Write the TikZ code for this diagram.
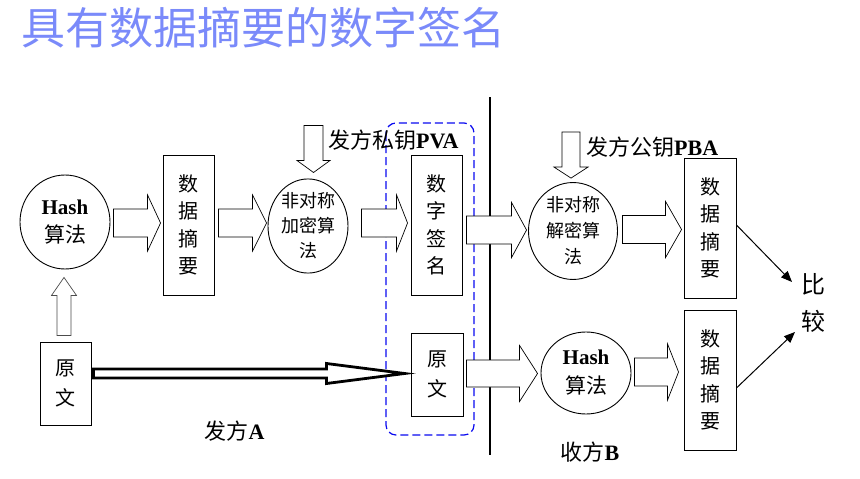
\documentclass[tikz,border=0pt]{standalone}
\usepackage{fontspec}
\setmainfont{Liberation Serif}
\newfontfamily\cjk{Noto Sans CJK SC}
\usetikzlibrary{calc,shapes.geometric,arrows.meta}
\definecolor{titleblue}{RGB}{122,138,250}
\definecolor{dashblue}{RGB}{10,10,240}
% #1 style, #2 start, #3 tip, #4 shaft half width, #5 head half width, #6 head length
\newcommand\blockarrow[6][]{%
  \coordinate (bah) at ($(#3)!#6!(#2)$);
  \draw[#1] ($(#2)!#4!90:(#3)$) -- ($(bah)!#4!90:(#3)$) -- ($(bah)!#5!90:(#3)$) -- (#3)
    -- ($(bah)!#5!-90:(#3)$) -- ($(bah)!#4!-90:(#3)$) -- ($(#2)!#4!-90:(#3)$) -- cycle;}
\tikzset{
  cjkbox/.style={draw, line width=0.9pt, rectangle, minimum width=51pt, minimum height=140pt,
    inner sep=0pt, align=center, font=\cjk\fontsize{20}{27.5}\selectfont},
  circ/.style={draw, line width=0.9pt, ellipse, inner sep=0pt, align=center},
  hollow/.style={draw, line width=0.7pt, fill=white},
  lbl/.style={inner sep=0pt, font=\fontsize{22}{22}\selectfont},
  linearr/.style={line width=1pt, -{Triangle[length=11pt,width=9pt]}}
}
\begin{document}
\begin{tikzpicture}[x=1pt,y=-1pt]
\useasboundingbox (0,0) rectangle (860,479);
\fill[white] (0,0) rectangle (860,479);

% title
\node[anchor=west, inner sep=0pt, text=titleblue, font=\cjk\fontsize{44}{44}\selectfont] (title) at (21,28) {具有数据摘要的数字签名};

% dashed group and divider
\draw[dashblue, line width=1.2pt, dash pattern=on 8pt off 4pt, rounded corners=10pt] (386,123) rectangle (474,435);
\coordinate (vtop) at (490,97);
\coordinate (vbot) at (490,455);
\draw[line width=1.1pt] (vtop) -- (vbot);

% nodes
\node[circ, minimum width=90, minimum height=94, font=\fontsize{21}{28}\selectfont] (h1) at (65,222) {\textbf{Hash}\\{\cjk 算法}};
\node[cjkbox] (d1) at (188.5,225) {数\\据\\摘\\要};
\node[circ, minimum width=80, minimum height=86, font=\cjk\fontsize{18}{25}\selectfont] (e1) at (308,226) {非对称\\加密算\\法};
\node[cjkbox] (s1) at (436.5,225) {数\\字\\签\\名};
\node[circ, minimum width=89, minimum height=88, font=\cjk\fontsize{18}{26}\selectfont] (dc) at (573,231) {非对称\\解密算\\法};
\node[cjkbox, minimum width=52] (d2) at (710,228) {数\\据\\摘\\要};
\node[cjkbox, minimum width=52] (d3) at (710,380) {数\\据\\摘\\要};
\node[circ, minimum width=90, minimum height=82, font=\fontsize{21}{29}\selectfont] (h2) at (586,373) {\textbf{Hash}\\{\cjk 算法}};
\node[cjkbox, minimum width=52, minimum height=83, font=\cjk\fontsize{20}{30}\selectfont] (o2) at (437,374.5) {原\\文};
\node[cjkbox, minimum width=51, minimum height=83, font=\cjk\fontsize{20}{30}\selectfont] (o1) at (65.5,383.5) {原\\文};

% labels
\node[lbl, anchor=west] (pva) at (328,140) {{\cjk 发方私钥}\textbf{PVA}};
\node[lbl, anchor=west] (pba) at (586,147) {{\cjk 发方公钥}\textbf{PBA}};
\node[lbl] (fa) at (234.5,431) {{\cjk 发方}\textbf{A}};
\node[lbl] (sb) at (590,452) {{\cjk 收方}\textbf{B}};
\node[inner sep=0pt, align=center, font=\cjk\fontsize{24}{37}\selectfont] (cmp) at (813,303) {比\\较};

% hollow block arrows
\coordinate (a1s) at ($(h1.east)+(3,1)$);
\coordinate (a1t) at ($(d1.west|-a1s)+(-2,0)$);
\blockarrow[hollow]{a1s}{a1t}{14pt}{28pt}{13pt}

\coordinate (a2s) at ($(d1.east)+(4,-2)$);
\coordinate (a2t) at ($(e1.west|-a2s)+(-1,0)$);
\blockarrow[hollow]{a2s}{a2t}{14pt}{28pt}{14pt}

\coordinate (a3s) at ($(e1.east)+(13,-3)$);
\coordinate (a3t) at ($(s1.west|-a3s)+(-3,0)$);
\blockarrow[hollow]{a3s}{a3t}{14pt}{28pt}{11pt}

\coordinate (a4s) at ($(s1.east)+(4,5)$);
\coordinate (a4t) at ($(dc.west|-a4s)+(-1.5,0)$);
\blockarrow[hollow]{a4s}{a4t}{14pt}{27.5pt}{15pt}

\coordinate (a5s) at ($(dc.east)+(4.5,-1.5)$);
\coordinate (a5t) at ($(d2.west|-a5s)+(-2,0)$);
\blockarrow[hollow]{a5s}{a5t}{14pt}{28pt}{16pt}

\coordinate (a6s) at ($(o2.east)+(3,-1)$);
\coordinate (a6t) at ($(h2.west|-a6s)+(-3,0)$);
\blockarrow[hollow]{a6s}{a6t}{13.5pt}{28pt}{18pt}

\coordinate (a7s) at ($(h2.east)+(3,-1)$);
\coordinate (a7t) at ($(d3.west|-a7s)+(-5,0)$);
\blockarrow[hollow]{a7s}{a7t}{14pt}{28pt}{11pt}

% key arrows (down)
\coordinate (k1t) at ($(e1.north)+(5.5,-6)$);
\coordinate (k1s) at ($(k1t)+(0,-47)$);
\blockarrow[hollow]{k1s}{k1t}{9.5pt}{16.5pt}{12pt}

\coordinate (k2t) at ($(dc.north)+(-2,-4)$);
\coordinate (k2s) at ($(k2t)+(0,-46)$);
\blockarrow[hollow]{k2s}{k2t}{9pt}{17pt}{11pt}

% up arrow from original text to hash
\coordinate (ups) at ($(o1.north)+(-1.5,-6)$);
\coordinate (upt) at ($(h1.south)+(-1,8)$);
\blockarrow[hollow, draw=black!70]{ups}{upt}{7pt}{12.5pt}{18pt}

% thick transmission arrow
\coordinate (ts) at ($(o1.east)+(2,-10)$);
\coordinate (tt) at ($(o2.west|-ts)+(-6,0)$);
\blockarrow[draw, fill=white, line width=2.8pt]{ts}{tt}{4.5pt}{10pt}{78pt}

% comparison arrows
\coordinate (c1) at (792,282);
\coordinate (c2) at (795,332);
\draw[linearr] ($(d2.east)+(0,-3)$) -- (c1);
\draw[linearr] ($(d3.east)+(0,8)$) -- (c2);
\end{tikzpicture}
\end{document}
